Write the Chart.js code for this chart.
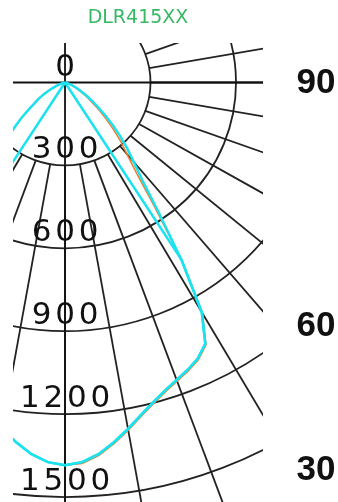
<!DOCTYPE html>
<html>
<head>
<meta charset="utf-8">
<script src="https://cdn.jsdelivr.net/npm/chart.js@4.4.1/dist/chart.umd.min.js"></script>
<style>
html,body{margin:0;padding:0;background:#fff;}
#wrap{position:relative;width:338px;height:502px;}
</style>
</head>
<body>
<div id="wrap"><canvas id="polar"></canvas></div>
<script>
// gamma angles (deg from nadir) for one half of each C-plane
const gammas = [0,2.5,5,7.5,10,12.5,15,17.5,20,22.5,25,27.5,30,32.5,35,37.5,40,42.5,45,47.5,50,52.5,55,57.5,60,62.5,65,67.5,70,72.5,75,77.5,80,82.5,85,87.5,90];

// luminous intensity, cd
const c0   = [1385,1375,1350,1313,1273,1232,1197,1168,1145,1125,1102,1066,960,760,0,0,0,0,0,0,0,0,0,0,0,0,0,0,0,0,0,0,0,0,0,0,0];
const c180 = [1385,1375,1350,1313,1273,1232,1197,1168,1145,1125,1102,1066,950,500,0,0,0,0,0,0,0,0,0,0,0,0,0,0,0,0,0,0,0,0,0,0,0];
const c90  = [1385,1375,1350,1313,1273,1232,1197,1168,1145,1125,1102,1066,960,760,570,445,375,322,272,226,184,146,116,91,70,53,39,28,19,13,9,6,4,3,2,1,0];
const c270 = [1385,1375,1350,1313,1273,1232,1197,1168,1145,1125,1102,1066,960,760,575,450,378,325,285,240,200,160,130,110,88,68,50,36,25,17,11,7,5,3,2,1,0];
const c45  = [1390,1380,1355,1318,1278,1237,1202,1173,1150,1130,1107,1071,965,765,545,410,338,290,240,196,158,124,98,76,58,44,32,23,16,11,8,5,3,2,1,0.5,0];

const ringValues = [0,300,600,900,1200,1500,1800];
const spokeStep = 10;
const angleLabels = ['90','60','30'];
const angleLabelAt = [0,880,1400];

function planePoints(left, right){
  const pts = [];
  for(let i=gammas.length-1;i>=0;i--){
    const t = gammas[i]*Math.PI/180;
    pts.push({x:-left[i]*Math.sin(t), y:left[i]*Math.cos(t)});
  }
  for(let i=1;i<gammas.length;i++){
    const t = gammas[i]*Math.PI/180;
    pts.push({x:right[i]*Math.sin(t), y:right[i]*Math.cos(t)});
  }
  return pts;
}

const polarGrid = {
  id:'polarGrid',
  beforeDatasetsDraw(chart){
    const {ctx, chartArea:a, scales:{x,y}} = chart;
    const cx = x.getPixelForValue(0), cy = y.getPixelForValue(0);
    const kx = (x.getPixelForValue(1000)-cx)/1000, ky = (y.getPixelForValue(1000)-cy)/1000;
    ctx.save();
    ctx.beginPath();
    ctx.rect(a.left,a.top,a.right-a.left,a.bottom-a.top);
    ctx.clip();
    ctx.strokeStyle = '#222';
    ctx.lineWidth = 1.8;
    ringValues.forEach(r=>{
      if(!r) return;
      ctx.beginPath();
      ctx.ellipse(cx,cy,kx*r,ky*r,0,0,Math.PI*2);
      ctx.stroke();
    });
    const inner = ringValues[1], outer = 4000;
    for(let g=0;g<360;g+=spokeStep){
      const t = g*Math.PI/180;
      ctx.beginPath();
      ctx.moveTo(x.getPixelForValue(inner*Math.sin(t)), y.getPixelForValue(inner*Math.cos(t)));
      ctx.lineTo(x.getPixelForValue(outer*Math.sin(t)), y.getPixelForValue(outer*Math.cos(t)));
      ctx.stroke();
    }
    // main axes through the centre
    ctx.strokeStyle = '#111';
    ctx.beginPath();
    ctx.moveTo(a.left,cy); ctx.lineTo(a.right,cy);
    ctx.moveTo(cx,a.top); ctx.lineTo(cx,a.bottom);
    ctx.stroke();
    ctx.restore();
  },
  afterDraw(chart){
    const {ctx, scales:{x,y}} = chart;
    const cx = x.getPixelForValue(0);
    ctx.save();
    // ring values along the nadir axis
    ctx.fillStyle = '#111';
    ctx.font = '31px "DejaVu Sans"';
    ctx.textAlign = 'center';
    ctx.textBaseline = 'middle';
    const adv = 23.5;
    ringValues.slice(0,6).forEach(v=>{
      const s = String(v);
      const py = y.getPixelForValue(v) - 15;
      for(let k=0;k<s.length;k++){
        ctx.fillText(s[k], cx + (k-(s.length-1)/2)*adv, py);
      }
    });
    // angle marks on the right
    ctx.font = 'bold 35px "Liberation Sans"';
    angleLabels.forEach((t,i)=>{
      ctx.fillText(t, 316, y.getPixelForValue(angleLabelAt[i]) + 1);
    });
    ctx.restore();
  }
};

new Chart(document.getElementById('polar'), {
  type:'scatter',
  data:{
    datasets:[
      {label:'C0-C180', data:planePoints(c180,c0), showLine:true, borderColor:'#1be2ee', borderWidth:2.5, pointRadius:0, tension:0},
      {label:'C90-C270', data:planePoints(c270,c90), showLine:true, borderColor:'#1be2ee', borderWidth:2.5, pointRadius:0, tension:0},
      {label:'C45-C225', data:planePoints(c270,c45), showLine:true, borderColor:'#ef7a2a', borderWidth:1.5, pointRadius:0, tension:0}
    ]
  },
  options:{
    responsive:true,
    maintainAspectRatio:false,
    animation:false,
    layout:{padding:{left:13,right:75,top:0,bottom:0}},
    plugins:{
      legend:{display:false},
      tooltip:{enabled:false},
      title:{
        display:true,
        text:'DLR415XX',
        color:'#36b864',
        font:{family:'"DejaVu Sans"', size:19, weight:'normal', lineHeight:1.2},
        padding:{top:7, bottom:13.2}
      }
    },
    scales:{
      x:{type:'linear', display:false, min:-182.5, max:694.7},
      y:{type:'linear', display:false, reverse:true, min:-143, max:1518}
    }
  },
  plugins:[polarGrid]
});
</script>
</body>
</html>
